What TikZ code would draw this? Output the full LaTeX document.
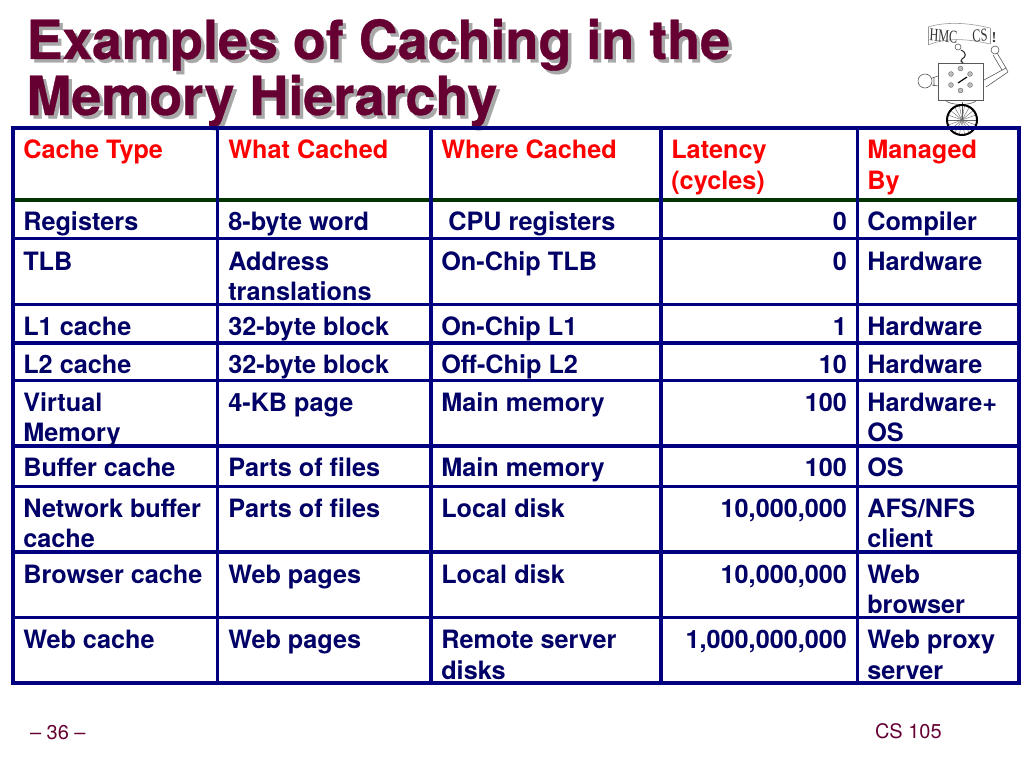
\documentclass[tikz,border=0pt]{standalone}
\usepackage{fontspec}
\setmainfont{TeX Gyre Heros}
\newfontfamily\titlefont[FakeBold=0.6]{TeX Gyre Heros Bold}
\newfontfamily\logofont{Liberation Serif}
\definecolor{navyt}{HTML}{000066}
\definecolor{grid}{HTML}{000080}
\definecolor{hdrline}{HTML}{003300}
\definecolor{titlec}{HTML}{660033}
\definecolor{shadowc}{HTML}{A8A8A8}
\newcommand{\cellL}[4][navyt]{\node[celltext,text=#1,anchor=base west,xshift=-0.7pt] (#2) at #3 {#4};}
\newcommand{\cellR}[3]{\node[celltext,anchor=base east] (#1) at #2 {#3};}
\tikzset{
  celltext/.style={inner sep=0pt,outer sep=0pt,text=navyt,font=\fontsize{25.25}{25.25}\selectfont\bfseries},
  titletext/.style={inner sep=0pt,outer sep=0pt,anchor=base west,font=\fontsize{53.9}{53.9}\selectfont\titlefont},
  foot/.style={inner sep=0pt,outer sep=0pt,anchor=base west,text=titlec,font=\fontsize{20}{20}\selectfont},
  gridline/.style={draw=grid,line width=3.3pt,line cap=rect},
  logoline/.style={draw=black!65,line width=0.6pt},
  logotxt/.style={inner sep=0pt,text=black!80,font=\fontsize{18}{18}\selectfont\logofont},
}
\begin{document}
\begin{tikzpicture}[x=1pt,y=-1pt]
\useasboundingbox (0,0) rectangle (1024,768);
% logo
\draw[logoline,draw=black!40] (928,27) .. controls (945,22) and (965,22) .. (990,28) (928,45) .. controls (945,38) and (965,38) .. (990,44);
\draw[logoline,draw=black!40] (928,27) -- (928,45) (990,28) -- (990,44);
\node[logotxt,xscale=0.68,rotate=-4] (logotext) at (943.5,36) {HMC};
\node[logotxt,xscale=0.68,rotate=6] (logocs) at (980,35.5) {CS};
\node[logotxt,font=\fontsize{15}{15}\selectfont\logofont\bfseries] (logobang) at (994,38) {!};
\draw[logoline,fill=white] (938,63) rectangle (983,100);
\draw[black!80,line width=1.1pt] (961,50) .. controls (967,53) and (966,57) .. (962,59) .. controls (960,60) and (961,62) .. (963,63);
\draw[logoline] (958,47) circle (3);
\draw[logoline] (925,81) circle (7);
\draw[logoline] (932,78) -- (938,76) (932,85) -- (938,86) (934,77) -- (934,86);
\draw[logoline] (984,80) -- (1006,68) -- (1008,72) -- (986,87) (1006,68) -- (997,53) (1002,70) -- (993,55);
\draw[logoline] (995,50) circle (4);
\foreach \a in {90,30,-30,-90,-150,150}
  {\draw[black!55,fill=black!25,line width=0.5pt] (960.5,79.5) ++(\a:11) circle (2.4);}
\draw[black,line width=1.2pt] (958,83) -- (967,77);
\draw[logoline] (945,100) .. controls (950,106) and (972,106) .. (977,100);
\draw[logoline] (962,102) -- (962,119);
\foreach \a in {0,20,...,340}
  \draw[black!60,line width=0.4pt] (962,120) -- ++(\a:15);
\draw[black,line width=2pt] (962,120) circle (15);
% title
\node[titletext,text=shadowc] (title1s) at (30,62.5) {Examples of Caching in the};
\node[titletext,text=shadowc] (title2s) at (30,118.5) {Memory Hierarchy};
\node[titletext,text=titlec] (title1) at (26.5,59) {Examples of Caching in the};
\node[titletext,text=titlec] (title2) at (26.5,115) {Memory Hierarchy};
% grid
\foreach \y in {238.5,304.5,343,380.5,446,486.5,552,617.5}
  \draw[gridline] (13,\y) -- (1019,\y);
\draw[draw=hdrline,line width=3.3pt] (13,200) -- (1019,200);
\foreach \x in {217.5,431,661,857.5}
  \draw[draw=grid,line width=3.3pt] (\x,128) -- (\x,683);
\draw[gridline] (13,128) rectangle (1019,683);
% header
\cellL[red]{h1}{(24,158.5)}{Cache Type}
\cellL[red]{h2}{(229,158.5)}{What Cached}
\cellL[red]{h3}{(442,158.5)}{Where Cached}
\cellL[red]{h4}{(672,158.5)}{Latency}
\cellL[red]{h4b}{(672,189)}{(cycles)}
\cellL[red]{h5}{(868,158.5)}{Managed}
\cellL[red]{h5b}{(868,189)}{By}
% rows
\cellL{a1}{(24,230)}{Registers}\cellL{b1}{(229,230)}{8-byte word}\cellL{c1}{(449,230)}{CPU registers}\cellR{d1}{(847,230)}{0}\cellL{e1}{(868,230)}{Compiler}
\cellL{a2}{(24,270)}{TLB}\cellL{b2}{(229,270)}{Address}\cellL{b2b}{(229,300)}{translations}\cellL{c2}{(442,270)}{On-Chip TLB}\cellR{d2}{(847,270)}{0}\cellL{e2}{(868,270)}{Hardware}
\cellL{a3}{(24,335)}{L1 cache}\cellL{b3}{(229,335)}{32-byte block}\cellL{c3}{(442,335)}{On-Chip L1}\cellR{d3}{(847,335)}{1}\cellL{e3}{(868,335)}{Hardware}
\cellL{a4}{(24,373)}{L2 cache}\cellL{b4}{(229,373)}{32-byte block}\cellL{c4}{(442,373)}{Off-Chip L2}\cellR{d4}{(847,373)}{10}\cellL{e4}{(868,373)}{Hardware}
\cellL{a5}{(24,411)}{Virtual}\cellL{a5b}{(24,441)}{Memory}\cellL{b5}{(229,411)}{4-KB page}\cellL{c5}{(442,411)}{Main memory}\cellR{d5}{(847,411)}{100}\cellL{e5}{(868,411)}{Hardware+}\cellL{e5b}{(868,441)}{OS}
\cellL{a6}{(24,476)}{Buffer cache}\cellL{b6}{(229,476)}{Parts of files}\cellL{c6}{(442,476)}{Main memory}\cellR{d6}{(847,476)}{100}\cellL{e6}{(868,476)}{OS}
\cellL{a7}{(24,517)}{Network buffer}\cellL{a7b}{(24,547)}{cache}\cellL{b7}{(229,517)}{Parts of files}\cellL{c7}{(442,517)}{Local disk}\cellR{d7}{(847,517)}{10,000,000}\cellL{e7}{(868,517)}{AFS/NFS}\cellL{e7b}{(868,547)}{client}
\cellL{a8}{(24,583)}{Browser cache}\cellL{b8}{(229,583)}{Web pages}\cellL{c8}{(442,583)}{Local disk}\cellR{d8}{(847,583)}{10,000,000}\cellL{e8}{(868,583)}{Web}\cellL{e8b}{(868,613)}{browser}
\cellL{a9}{(24,648)}{Web cache}\cellL{b9}{(229,648)}{Web pages}\cellL{c9}{(442,648)}{Remote server}\cellL{c9b}{(442,679)}{disks}\cellR{d9}{(847,648)}{1,000,000,000}\cellL{e9}{(868,648)}{Web proxy}\cellL{e9b}{(868,679)}{server}
% footer
\node[foot] (pg) at (30,739) {– 36 –};
\node[foot] (cs) at (875,738) {CS 105};
\end{tikzpicture}
\end{document}
